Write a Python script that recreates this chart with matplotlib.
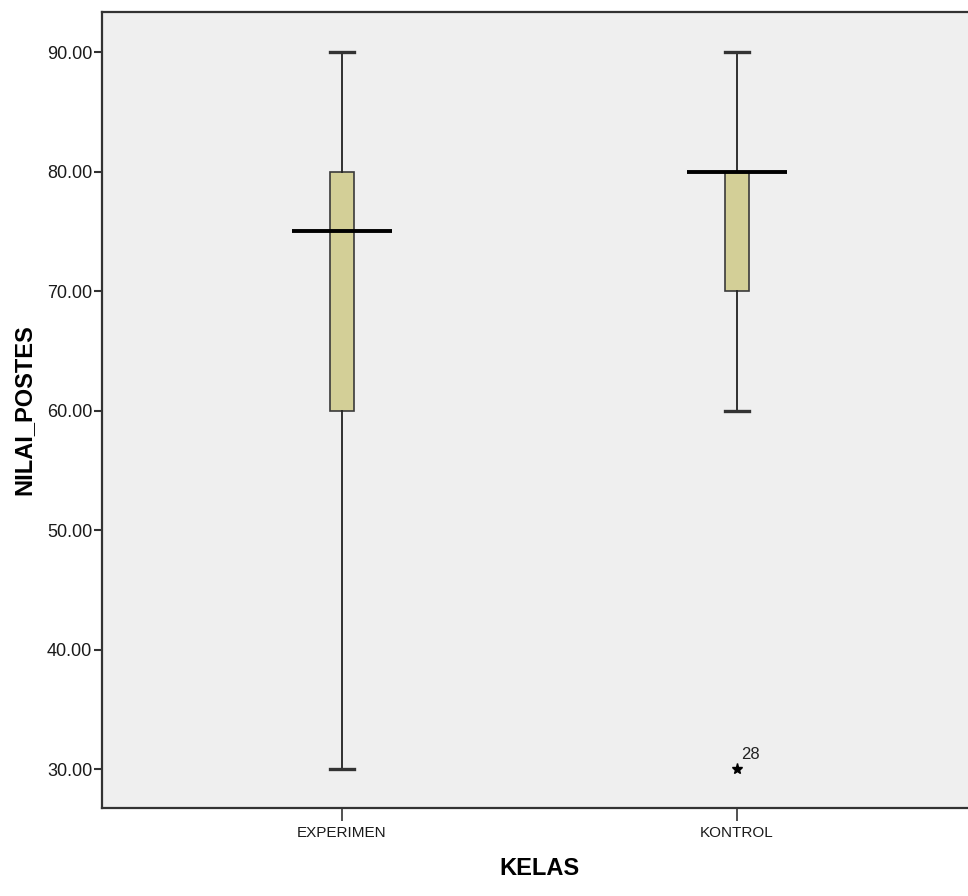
import numpy as np
import matplotlib
matplotlib.use('Agg')
from matplotlib import pyplot as plt

# boxplot summary values
groups = ['EXPERIMEN', 'KONTROL']
whislo = [30.0, 60.0]
q1 = [60.0, 70.0]
med = [75.0, 80.0]
q3 = [80.0, 80.0]
whishi = [90.0, 90.0]
outliers = [[], [30.0]]
outlier_ids = [[], ['28']]
yticks = [30, 40, 50, 60, 70, 80, 90]

plt.rc('font', family=['Liberation Sans', 'DejaVu Sans'])

fig = plt.figure(figsize=(9.68, 8.96), dpi=100)
fig.patch.set_facecolor('white')
ax = fig.add_axes([102 / 968, 88 / 896, 875 / 968, 796 / 896])
ax.set_facecolor('#efefef')

pos = np.arange(1, len(groups) + 1)
stats = []
for i in range(len(groups)):
    stats.append({'label': groups[i], 'whislo': whislo[i], 'q1': q1[i], 'med': med[i],
                  'q3': q3[i], 'whishi': whishi[i], 'fliers': outliers[i]})

ax.bxp(stats, positions=pos, widths=0.063, capwidths=0.063, patch_artist=True,
       boxprops=dict(facecolor='#d3cf97', edgecolor='#3a3a3a', linewidth=1.2),
       whiskerprops=dict(color='#222222', linewidth=1.3),
       capprops=dict(color='#333333', linewidth=2.4),
       medianprops=dict(linewidth=0),
       flierprops=dict(marker='*', markersize=8, markerfacecolor='black',
                       markeredgecolor='black'))

# SPSS style median bar, wider than the box
ax.hlines(med, pos - 0.127, pos + 0.127, colors='black', linewidth=2.8, zorder=5)

for i in range(len(groups)):
    for v, lab in zip(outliers[i], outlier_ids[i]):
        ax.annotate(lab, (pos[i], v), xytext=(3, 7), textcoords='offset points',
                    fontsize=12, color='#222222')

ax.set_xlim(1 - 240 / 395, 2 + 240 / 395)
ax.set_ylim(26.74, 93.35)
ax.set_yticks(yticks)
ax.set_yticklabels(['%.2f' % t for t in yticks], fontsize=13, color='#1a1a1a')
ax.set_xticks(pos)
ax.set_xticklabels(groups, fontsize=11, color='#1a1a1a')
ax.tick_params(axis='y', length=6, width=1.5, color='#333333', pad=1)
ax.tick_params(axis='x', length=9, width=1.2, color='#333333', pad=4)

for s in ['left', 'top', 'bottom', 'right']:
    ax.spines[s].set_color('#333333')
    ax.spines[s].set_linewidth(1.6)

ax.set_xlabel('KELAS', fontsize=17, fontweight='bold', labelpad=12)
ax.set_ylabel('NILAI_POSTES', fontsize=17, fontweight='bold', labelpad=8)

fig.savefig('out.png', dpi=100)
plt.close()
